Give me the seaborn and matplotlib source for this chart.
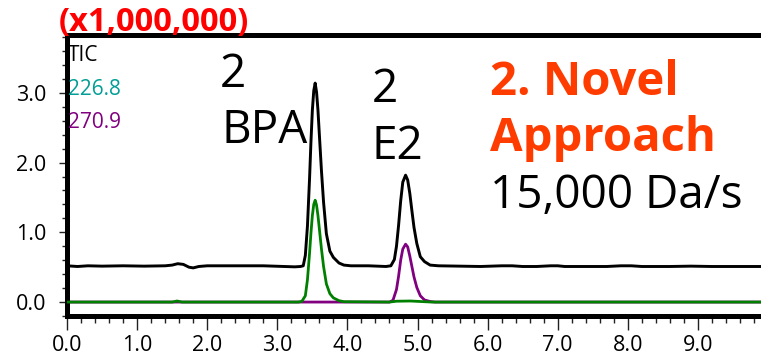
import matplotlib
matplotlib.use("Agg")
import matplotlib.pyplot as plt
import seaborn as sns
import pandas as pd
from matplotlib.ticker import MultipleLocator, FormatStrFormatter

# ---------------- data (intensity x1,000,000 vs retention time, min) ----------------
tic_time = [0.0, 0.15, 0.3, 0.5, 0.8, 1.1, 1.4, 1.5, 1.58, 1.66, 1.74, 1.8, 1.88, 2.0,
            2.4, 2.8, 3.1, 3.25, 3.33, 3.37, 3.40, 3.43, 3.46, 3.48, 3.50, 3.52, 3.54,
            3.56, 3.58, 3.60, 3.63, 3.66, 3.70, 3.75, 3.80, 3.88, 3.95, 4.05, 4.3, 4.55,
            4.62, 4.67, 4.70, 4.73, 4.76, 4.79, 4.83, 4.86, 4.89, 4.92, 4.95, 4.99, 5.04,
            5.10, 5.18, 5.3, 5.6, 5.9, 6.2, 6.35, 6.5, 6.7, 6.9, 7.0, 7.1, 7.4, 7.7, 7.9,
            8.05, 8.2, 8.6, 8.9, 9.2, 9.6, 9.9]
tic_val = [0.52, 0.51, 0.52, 0.515, 0.52, 0.515, 0.52, 0.53, 0.55, 0.54, 0.50, 0.49, 0.51, 0.52,
           0.52, 0.52, 0.51, 0.505, 0.51, 0.52, 0.67, 1.09, 1.77, 2.30, 2.75, 3.03, 3.14,
           3.01, 2.75, 2.40, 1.88, 1.43, 0.98, 0.73, 0.64, 0.56, 0.53, 0.52, 0.52, 0.51,
           0.52, 0.61, 0.80, 1.10, 1.45, 1.72, 1.82, 1.75, 1.56, 1.31, 1.07, 0.84, 0.65,
           0.58, 0.53, 0.52, 0.515, 0.51, 0.52, 0.52, 0.51, 0.51, 0.52, 0.52, 0.51, 0.51, 0.51, 0.52,
           0.52, 0.51, 0.51, 0.515, 0.51, 0.51, 0.51]

m226_time = [0.0, 1.5, 1.57, 1.64, 3.30, 3.35, 3.40, 3.43, 3.46, 3.48, 3.50, 3.52, 3.54,
             3.56, 3.58, 3.60, 3.63, 3.66, 3.70, 3.75, 3.80, 3.88, 3.95, 4.6, 4.7, 4.9,
             5.1, 5.2, 9.9]
m226_val = [0.0, 0.0, 0.015, 0.0, 0.0, 0.01, 0.09, 0.32, 0.70, 0.99, 1.24, 1.40, 1.46,
            1.39, 1.24, 1.05, 0.76, 0.51, 0.26, 0.12, 0.06, 0.02, 0.005, 0.0, 0.012, 0.015,
            0.005, 0.0, 0.0]

m270_time = [0.0, 4.60, 4.65, 4.70, 4.73, 4.76, 4.79, 4.83, 4.86, 4.89, 4.92, 4.95, 4.99,
             5.04, 5.10, 5.18, 5.25, 9.9]
m270_val = [0.0, 0.0, 0.025, 0.18, 0.37, 0.60, 0.76, 0.83, 0.79, 0.66, 0.51, 0.36, 0.21,
            0.09, 0.03, 0.008, 0.0, 0.0]

trace_names = ["TIC", "226.8", "270.9"]
label_colors = ["#000000", "#009E96", "#800080"]
line_colors = ["#000000", "#008000", "#800080"]
x_ticks = [0.0, 1.0, 2.0, 3.0, 4.0, 5.0, 6.0, 7.0, 8.0, 9.0]
y_ticks = [0.0, 1.0, 2.0, 3.0]

# ---------------- figure ----------------
W, H = 761, 357
sns.set_style("ticks")
plt.rcParams["font.family"] = ["Open Sans", "DejaVu Sans"]
plt.rcParams["text.color"] = "black"
plt.rcParams["xtick.color"] = "black"
plt.rcParams["ytick.color"] = "black"
plt.rcParams["axes.labelcolor"] = "black"

fig = plt.figure(figsize=(W / 100, H / 100), dpi=100)
ax = fig.add_axes([67 / W, 1 - 316 / H, 1 - 67 / W, (316 - 35) / H])

df270 = pd.DataFrame({"t": m270_time, "v": m270_val})
df226 = pd.DataFrame({"t": m226_time, "v": m226_val})
dftic = pd.DataFrame({"t": tic_time, "v": tic_val})
sns.lineplot(data=df270, x="t", y="v", color=line_colors[2], lw=2.0, ax=ax,
             estimator=None, sort=False, zorder=2)
sns.lineplot(data=df226, x="t", y="v", color=line_colors[1], lw=2.0, ax=ax,
             estimator=None, sort=False, zorder=3)
sns.lineplot(data=dftic, x="t", y="v", color=line_colors[0], lw=2.1, ax=ax,
             estimator=None, sort=False, zorder=4)

ax.set_xlim(0, 9.9)
ax.set_ylim(-0.2, 3.83)
ax.set_xlabel("")
ax.set_ylabel("")
ax.set_xticks(x_ticks)
ax.set_yticks(y_ticks)
ax.xaxis.set_major_formatter(FormatStrFormatter("%.1f"))
ax.yaxis.set_major_formatter(FormatStrFormatter("%.1f"))
ax.xaxis.set_minor_locator(MultipleLocator(0.2))
ax.yaxis.set_minor_locator(MultipleLocator(0.2))
ax.tick_params(axis="x", which="major", direction="out", length=10, width=1.0,
               labelsize=15.5, pad=4, color="#222222", labelcolor="black")
ax.tick_params(axis="x", which="minor", direction="out", length=5, width=1.0, color="#222222")
ax.tick_params(axis="y", which="major", direction="out", length=6, width=1.0,
               labelsize=15.5, pad=9, color="#222222", labelcolor="black")
ax.tick_params(axis="y", which="minor", direction="out", length=3.5, width=1.0, color="#222222")

for s in ["left", "top", "bottom"]:
    ax.spines[s].set_linewidth(3.6)
    ax.spines[s].set_color("black")
ax.spines["right"].set_visible(False)


def ftext(px, py, s, **kw):
    fig.text(px / W, 1 - py / H, s, va="baseline", ha="left", **kw)


# header multiplier
ftext(59, 31, "(x1,000,000)", color="#FF0000", fontsize=23.5, fontweight="bold")

# trace legend labels
for name, col, py in zip(trace_names, label_colors, [61, 95, 128]):
    ftext(68, py, name, color=col, fontsize=15)

# peak labels
ftext(220, 87, "2", fontsize=33)
ftext(221, 143, "BPA", fontsize=33)
ftext(372, 102, "2", fontsize=33)
ftext(372, 159, "E2", fontsize=33)

# method annotation
ftext(490, 95, "2. Novel", color="#FF3C00", fontsize=34, fontweight="bold")
ftext(490, 151, "Approach", color="#FF3C00", fontsize=34, fontweight="bold")
ftext(490, 208, "15,000 Da/s", fontsize=33)

fig.savefig("out.png", dpi=100)
